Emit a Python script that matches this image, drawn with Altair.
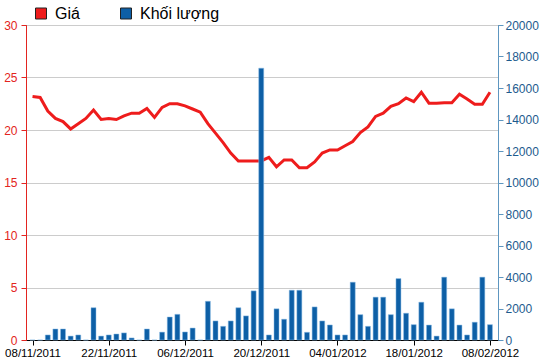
import altair as alt
import pandas as pd

# ---- data ----
tick_labels = ["08/11/2011", "22/11/2011", "06/12/2011", "20/12/2011",
               "04/01/2012", "18/01/2012", "08/02/2012"]
tick_days = [0, 10, 20, 30, 40, 50, 60]

price = [23.2, 23.1, 21.8, 21.1, 20.8, 20.1, 20.6, 21.1, 21.9, 21.0,
         21.1, 21.0, 21.35, 21.6, 21.6, 22.05, 21.2, 22.15, 22.5, 22.5,
         22.3, 22.0, 21.7, 20.6, 19.7, 18.8, 17.8, 17.05, 17.05, 17.05,
         17.05, 17.4, 16.5, 17.15, 17.15, 16.4, 16.4, 16.95, 17.8, 18.1,
         18.1, 18.5, 18.9, 19.75, 20.3, 21.3, 21.6, 22.25, 22.5, 23.05,
         22.7, 23.6, 22.55, 22.55, 22.6, 22.6, 23.4, 22.95, 22.45, 22.45,
         23.6]

volume = [0, 0, 320, 700, 700, 250, 320, 0, 2050, 250,
          320, 380, 450, 130, 0, 700, 0, 500, 1460, 1630,
          510, 760, 0, 2460, 1210, 870, 1210, 2050, 1530, 3120,
          17260, 320, 1980, 1320, 3160, 3160, 490, 2100, 1210, 955,
          320, 320, 3670, 1610, 870, 2720, 2720, 1610, 3900, 1700,
          975, 2400, 950, 250, 3990, 1980, 950, 320, 1130, 3990,
          975]

series_names = ["Giá", "Khối lượng"]
series_colors = ["#ee1c1c", "#0d5fa6"]

day = list(range(len(price)))
df = pd.DataFrame({"day": day, "price": price, "volume": volume,
                   "series": [series_names[1]] * len(day)})

FONT = "Liberation Sans"
RED = "#e32420"
BLUE_LBL = "#1d5b8e"
BLUE_AX = "#5e96c0"

label_expr = "[" + ",".join(f"'{t}'" for t in tick_labels) + "][round(datum.value/10)]"

x_enc = alt.X(
    "day:Q",
    scale=alt.Scale(domain=[-0.2, 60.4], nice=False, zero=False),
    axis=alt.Axis(values=tick_days, labelExpr=label_expr, title=None, grid=False,
                  domainColor="#000", tickColor="#000", labelColor="#000",
                  labelFont=FONT, labelFontSize=11.5, tickSize=5, labelPadding=2,
                  labelFlush=False, labelOverlap=False),
)

line = alt.Chart(df).mark_line(color=series_colors[0], strokeWidth=3).encode(
    x=x_enc,
    y=alt.Y("price:Q",
            scale=alt.Scale(domain=[0, 30], nice=False),
            axis=alt.Axis(orient="left", values=[0, 5, 10, 15, 20, 25, 30], title=None,
                          grid=True, gridColor="#cccccc", gridWidth=1,
                          domainColor=RED, tickColor=RED, labelColor=RED,
                          labelFont=FONT, labelFontSize=12, tickSize=5, labelPadding=4)),
)

bars = alt.Chart(df).mark_bar(size=5, stroke="#8fbfe6", strokeWidth=0.5).encode(
    x=x_enc,
    y=alt.Y("volume:Q",
            scale=alt.Scale(domain=[0, 20000], nice=False),
            axis=alt.Axis(orient="right", values=list(range(0, 20001, 2000)), title=None,
                          format="d", grid=False, domainColor=BLUE_AX, tickColor=BLUE_AX,
                          labelColor=BLUE_LBL, labelFont=FONT, labelFontSize=12,
                          tickSize=5, labelPadding=2)),
    color=alt.Color("series:N",
                    scale=alt.Scale(domain=series_names, range=series_colors),
                    legend=alt.Legend(orient="none", legendX=7, legendY=-19.5,
                                      direction="horizontal", title=None,
                                      symbolType="square", symbolSize=121,
                                      symbolStrokeColor="#222", symbolStrokeWidth=1,
                                      symbolOpacity=1, labelFont=FONT,
                                      labelFontSize=16, labelColor="#000",
                                      labelOffset=6, columnPadding=38, padding=0)),
)

chart = (
    alt.layer(line, bars)
    .resolve_scale(y="independent")
    .properties(width=472, height=315,
                autosize=alt.AutoSizeParams(type="none"),
                padding={"left": 26, "top": 25, "right": 52, "bottom": 24},
                background="#ffffff")
    .configure_view(stroke="#000000", strokeWidth=1)
)

chart.save("out.html", embed_options={"renderer": "svg", "actions": False})
